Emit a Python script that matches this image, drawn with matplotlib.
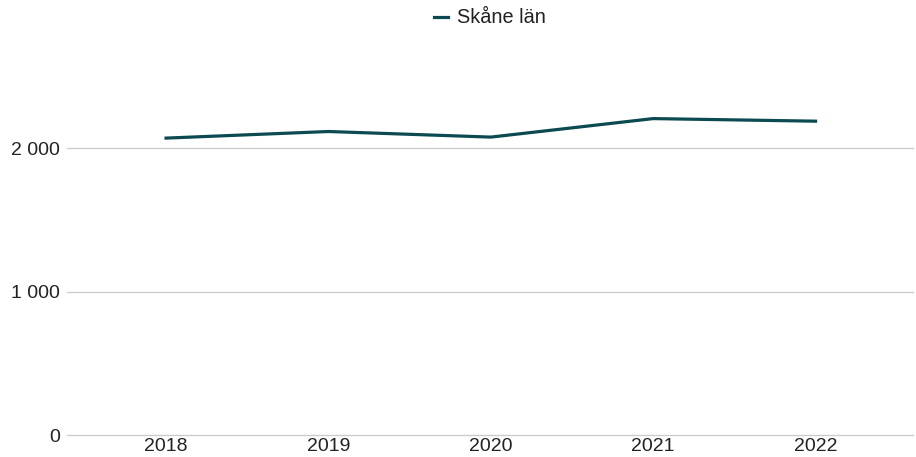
import matplotlib
matplotlib.use("Agg")
import matplotlib.pyplot as plt
from matplotlib.ticker import FuncFormatter

years = ["2018", "2019", "2020", "2021", "2022"]
skane = [2070, 2116, 2077, 2206, 2188]
series_name = "Skåne län"

plt.rcParams["font.family"] = ["Liberation Sans", "DejaVu Sans"]

fig = plt.figure(figsize=(9.16, 4.57), dpi=100)
ax = fig.add_axes([67 / 916, 22 / 457, 846 / 916, 395 / 457])

x = list(range(len(years)))
ax.plot(x, skane, color="#0b4a50", linewidth=2.3, label=series_name,
        solid_joinstyle="miter", zorder=3)

ax.set_xlim(-0.61, 4.6)
ax.set_ylim(0, 2754)
ax.set_yticks([0, 1000, 2000])
ax.yaxis.set_major_formatter(FuncFormatter(lambda v, p: f"{int(v):,}".replace(",", " ")))
ax.set_xticks(x)
ax.set_xticklabels(years)

ax.grid(axis="y", color="#cccccc", linewidth=1)
for gl in ax.get_ygridlines():
    gl.set_clip_on(False)
ax.set_axisbelow(True)
for s in ax.spines.values():
    s.set_visible(False)
ax.tick_params(axis="both", length=0, labelsize=14, colors="#222222")
ax.tick_params(axis="y", pad=5)
ax.tick_params(axis="x", pad=2)

ax.legend(loc="center", bbox_to_anchor=(0.5, (457 - 18 - 22) / 395), frameon=False,
          fontsize=14.3, handlelength=0.7, handletextpad=0.5,
          labelcolor="#222222")

fig.savefig("out.png", dpi=100)
